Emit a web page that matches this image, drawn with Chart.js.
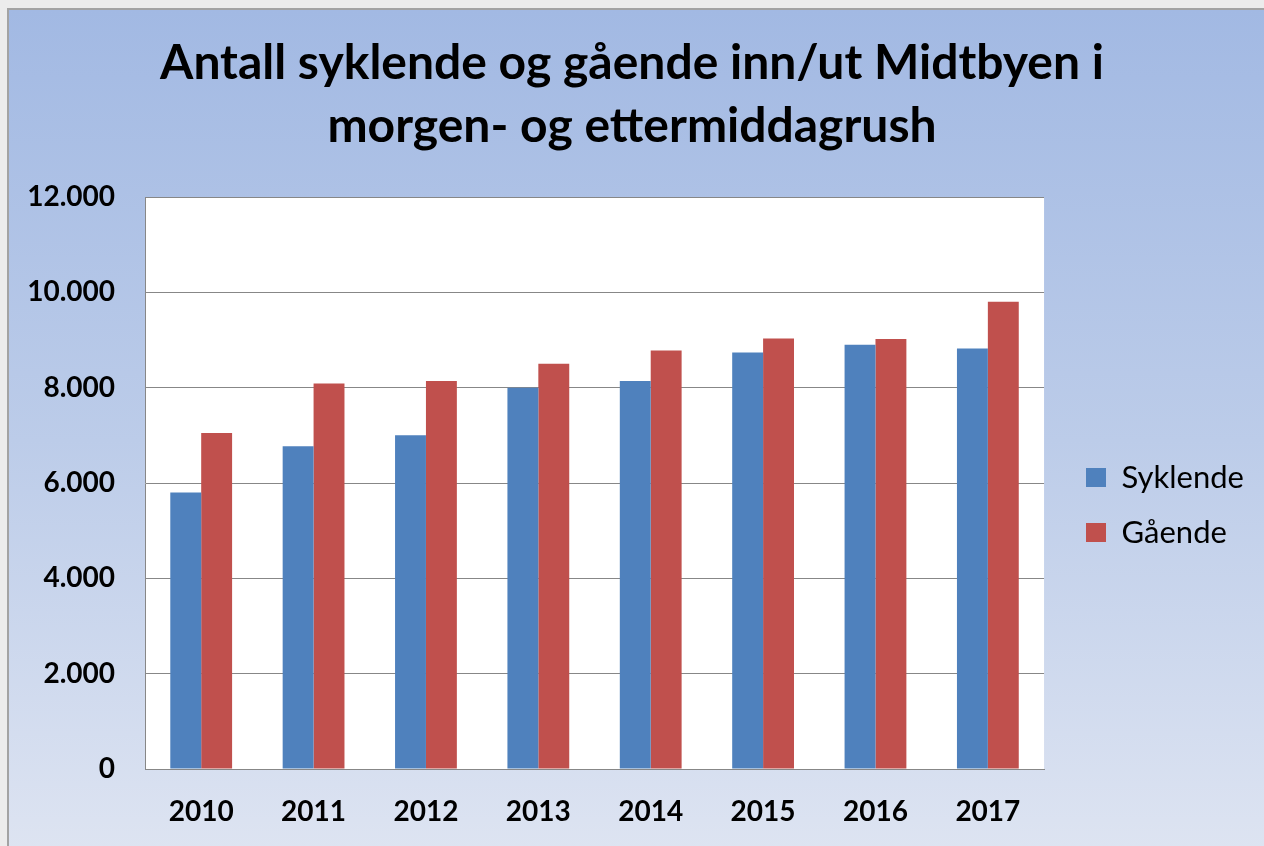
<!DOCTYPE html>
<html>
<head>
<meta charset="utf-8">
<script src="https://cdn.jsdelivr.net/npm/chart.js@4.4.0/dist/chart.umd.min.js"></script>
<style>
    html, body { margin: 0; padding: 0; overflow: hidden; background: #ececec; }
    #frame {
        position: absolute; left: 7px; top: 8px; width: 1280px; height: 860px;
        border: 2px solid #a3a3a3;
        background: linear-gradient(to bottom, #a2b9e3 0%, #bccce9 50%, #dfe5f2 100%);
    }
    #chart { position: absolute; left: 0; top: 0; }
</style>
</head>
<body>
<div id="frame"></div>
<canvas id="chart" width="1264" height="846"></canvas>
<script>
const years = ['2010', '2011', '2012', '2013', '2014', '2015', '2016', '2017'];
const syklende = [5800, 6770, 7000, 8000, 8140, 8740, 8900, 8820];
const gaaende = [7050, 8090, 8140, 8500, 8780, 9030, 9020, 9800];
const yTickLabels = ['0', '2.000', '4.000', '6.000', '8.000', '10.000', '12.000'];

// white plot area, like the Excel chart
const plotBackground = {
    id: 'plotBackground',
    beforeDraw: function (chart) {
        var ctx = chart.ctx;
        var a = chart.chartArea;
        ctx.save();
        ctx.fillStyle = '#ffffff';
        ctx.fillRect(a.left, a.top, a.right - a.left, a.bottom - a.top);
        ctx.restore();
    }
};

// Excel puts the legend lower and further right than Chart.js does
const legendPlace = {
    id: 'legendPlace',
    afterLayout: function (chart) {
        var legend = chart.legend;
        var w = legend.right - legend.left;
        legend.left = 1062;
        legend.right = legend.left + w;
        legend.top = 438;
        legend.bottom = 846;
    }
};

var data = {
    labels: years,
    datasets: [{
            label: 'Syklende',
            data: syklende,
            backgroundColor: '#4F81BD'
        }, {
            label: 'Gående',
            data: gaaende,
            backgroundColor: '#C0504D'
        }]
};

var config = {
    type: 'bar',
    data: data,
    plugins: [plotBackground, legendPlace],
    options: {
        responsive: false,
        animation: false,
        layout: {
            padding: {left: 28, right: 28, top: 0, bottom: 0}
        },
        datasets: {
            bar: {
                categoryPercentage: 0.55,
                barPercentage: 1
            }
        },
        plugins: {
            title: {
                display: true,
                text: ['Antall syklende og gående inn/ut Midtbyen i', 'morgen- og ettermiddagrush'],
                color: '#000000',
                font: {family: 'Lato', size: 48, weight: 'bold', lineHeight: '63px'},
                padding: {top: 32, bottom: 39}
            },
            legend: {
                position: 'right',
                align: 'start',
                labels: {
                    color: '#000000',
                    font: {family: 'Lato', size: 31},
                    boxWidth: 20,
                    boxHeight: 19,
                    padding: 24
                }
            },
            tooltip: {enabled: false}
        },
        scales: {
            x: {
                grid: {display: false, drawTicks: false},
                border: {display: true, color: '#878787', width: 1},
                ticks: {
                    color: '#000000',
                    font: {family: 'Lato', size: 28, weight: 'bold'},
                    padding: 26
                },
                afterFit: function (scale) {
                    scale.height = 77;
                }
            },
            y: {
                min: 0,
                max: 12000,
                grid: {color: '#878787', drawTicks: false},
                border: {display: true, color: '#878787', width: 1},
                ticks: {
                    stepSize: 2000,
                    color: '#000000',
                    font: {family: 'Lato', size: 28, weight: 'bold'},
                    padding: 30,
                    callback: function (value, index) {
                        return yTickLabels[index];
                    }
                },
                afterFit: function (scale) {
                    scale.width = 117;
                }
            }
        }
    }
};

var barChart = new Chart(document.getElementById('chart'), config);
</script>
</body>
</html>
